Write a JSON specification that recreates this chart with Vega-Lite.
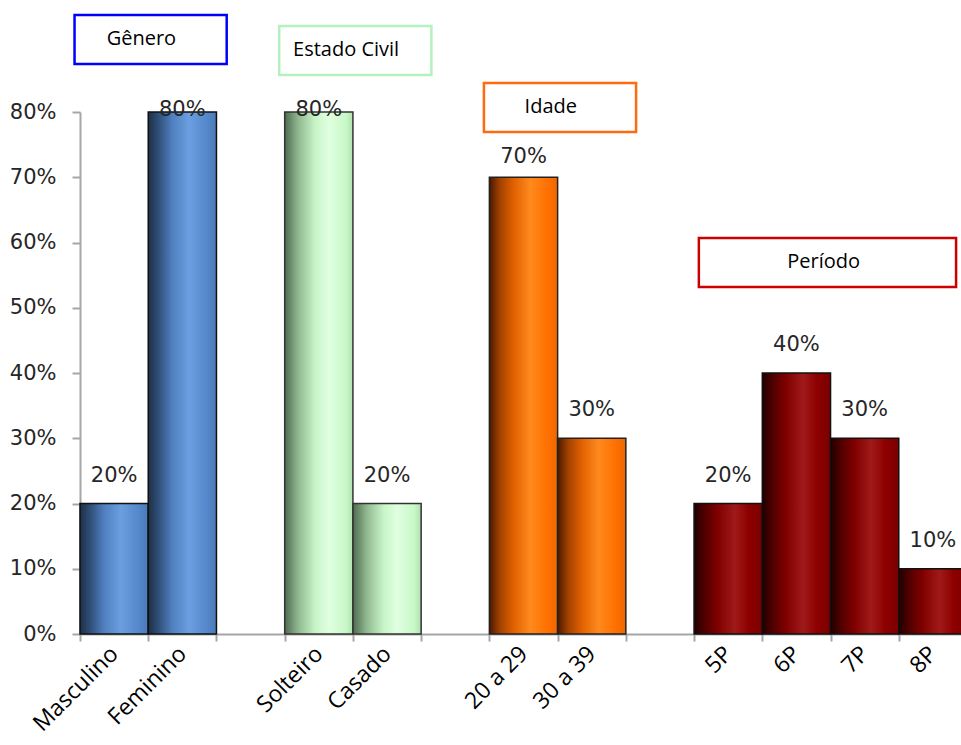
{
  "$schema": "https://vega.github.io/schema/vega-lite/v6.json",
  "autosize": {"type": "none"},
  "width": 881,
  "height": 522,
  "padding": {"left": 80, "top": 112, "right": 0, "bottom": 111},
  "background": "white",
  "config": {"view": {"stroke": null}},
  "datasets": {
    "barras": [
      {"categoria": "Masculino", "grupo": "Gênero", "valor": 0.2},
      {"categoria": "Feminino", "grupo": "Gênero", "valor": 0.8},
      {"categoria": "Solteiro", "grupo": "Estado Civil", "valor": 0.8},
      {"categoria": "Casado", "grupo": "Estado Civil", "valor": 0.2},
      {"categoria": "20 a 29", "grupo": "Idade", "valor": 0.7},
      {"categoria": "30 a 39", "grupo": "Idade", "valor": 0.3},
      {"categoria": "5P", "grupo": "Período", "valor": 0.2},
      {"categoria": "6P", "grupo": "Período", "valor": 0.4},
      {"categoria": "7P", "grupo": "Período", "valor": 0.3},
      {"categoria": "8P", "grupo": "Período", "valor": 0.1}
    ],
    "caixas": [
      {"grupo": "Gênero", "de": "Masculino", "centro": "Feminino", "ate": " ", "topo": 0.9487, "base": 0.8736},
      {"grupo": "Estado Civil", "de": "Solteiro", "centro": "Casado", "ate": "  ", "topo": 0.9318, "base": 0.8567},
      {"grupo": "Idade", "de": "20 a 29", "centro": "30 a 39", "ate": "   ", "topo": 0.8444, "base": 0.7693},
      {"grupo": "Período", "de": "5P", "centro": "7P", "ate": "8P", "topo": 0.6069, "base": 0.5318}
    ]
  },
  "layer": [
    {
      "data": {"name": "barras"},
      "transform": [{"filter": "datum.grupo === 'Gênero'"}],
      "mark": {"type": "bar", "stroke": "#111111", "strokeWidth": 1.5,
        "fill": {"gradient": "linear", "x1": 0, "x2": 1, "y1": 0, "y2": 0,
          "stops": [
            {"offset": 0, "color": "#1e2f45"},
            {"offset": 0.15, "color": "#2f4f78"},
            {"offset": 0.35, "color": "#4f7fbf"},
            {"offset": 0.6, "color": "#6c9fe0"},
            {"offset": 0.85, "color": "#5588cc"},
            {"offset": 1, "color": "#4a7ab8"}]}},
      "encoding": {
        "x": {"field": "categoria", "type": "nominal"},
        "y": {"field": "valor", "type": "quantitative"}
      }
    },
    {
      "data": {"name": "barras"},
      "transform": [{"filter": "datum.grupo === 'Estado Civil'"}],
      "mark": {"type": "bar", "stroke": "#333333", "strokeWidth": 1.5,
        "fill": {"gradient": "linear", "x1": 0, "x2": 1, "y1": 0, "y2": 0,
          "stops": [
            {"offset": 0, "color": "#4f6a4f"},
            {"offset": 0.2, "color": "#90b890"},
            {"offset": 0.45, "color": "#c8f5c8"},
            {"offset": 0.65, "color": "#e0ffe0"},
            {"offset": 0.9, "color": "#c8f8c8"},
            {"offset": 1, "color": "#b0e0b0"}]}},
      "encoding": {
        "x": {"field": "categoria", "type": "nominal"},
        "y": {"field": "valor", "type": "quantitative"}
      }
    },
    {
      "data": {"name": "barras"},
      "transform": [{"filter": "datum.grupo === 'Idade'"}],
      "mark": {"type": "bar", "stroke": "#222222", "strokeWidth": 1.5,
        "fill": {"gradient": "linear", "x1": 0, "x2": 1, "y1": 0, "y2": 0,
          "stops": [
            {"offset": 0, "color": "#4a1800"},
            {"offset": 0.15, "color": "#a04000"},
            {"offset": 0.35, "color": "#e06000"},
            {"offset": 0.6, "color": "#ff8a1e"},
            {"offset": 0.85, "color": "#ff7000"},
            {"offset": 1, "color": "#f06800"}]}},
      "encoding": {
        "x": {"field": "categoria", "type": "nominal"},
        "y": {"field": "valor", "type": "quantitative"}
      }
    },
    {
      "data": {"name": "barras"},
      "transform": [{"filter": "datum.grupo === 'Período'"}],
      "mark": {"type": "bar", "stroke": "#111111", "strokeWidth": 1.5,
        "fill": {"gradient": "linear", "x1": 0, "x2": 1, "y1": 0, "y2": 0,
          "stops": [
            {"offset": 0, "color": "#200000"},
            {"offset": 0.15, "color": "#500000"},
            {"offset": 0.35, "color": "#800000"},
            {"offset": 0.6, "color": "#a01a1a"},
            {"offset": 0.8, "color": "#8e0000"},
            {"offset": 1, "color": "#7a0000"}]}},
      "encoding": {
        "x": {
          "field": "categoria", "type": "nominal",
          "scale": {
            "type": "band",
            "domain": ["Masculino", "Feminino", " ", "Solteiro", "Casado", "  ", "20 a 29", "30 a 39", "   ", "5P", "6P", "7P", "8P"],
            "range": [0, 887],
            "paddingInner": 0,
            "paddingOuter": 0
          },
          "axis": {
            "title": null,
            "labelAngle": -45,
            "labelFont": "Open Sans",
            "labelFontSize": 23,
            "labelColor": "#000000",
            "labelPadding": 9,
            "tickBand": "extent",
            "tickSize": 7,
            "tickWidth": 2,
            "tickColor": "#a6a6a6",
            "domainColor": "#a6a6a6",
            "domainWidth": 2,
            "grid": false
          }
        },
        "y": {
          "field": "valor", "type": "quantitative",
          "scale": {"domain": [0, 0.8], "nice": false},
          "axis": {
            "title": null,
            "format": ".0%",
            "values": [0, 0.1, 0.2, 0.3, 0.4, 0.5, 0.6, 0.7, 0.8],
            "labelFont": "DejaVu Sans",
            "labelFontSize": 21,
            "labelColor": "#262626",
            "labelPadding": 16,
            "tickSize": 8,
            "tickWidth": 2,
            "tickColor": "#a6a6a6",
            "domainColor": "#a6a6a6",
            "domainWidth": 2,
            "grid": false
          }
        }
      }
    },
    {
      "data": {"name": "barras"},
      "transform": [{"filter": "datum.valor >= 0.8"}],
      "mark": {"type": "text", "font": "DejaVu Sans", "fontSize": 21, "color": "#262626", "baseline": "middle", "dy": -2},
      "encoding": {
        "x": {"field": "categoria", "type": "nominal"},
        "y": {"field": "valor", "type": "quantitative"},
        "text": {"field": "valor", "type": "quantitative", "format": ".0%"}
      }
    },
    {
      "data": {"name": "barras"},
      "transform": [{"filter": "datum.valor == 0.7"}],
      "mark": {"type": "text", "font": "DejaVu Sans", "fontSize": 21, "color": "#262626", "baseline": "middle", "dy": -20},
      "encoding": {
        "x": {"field": "categoria", "type": "nominal"},
        "y": {"field": "valor", "type": "quantitative"},
        "text": {"field": "valor", "type": "quantitative", "format": ".0%"}
      }
    },
    {
      "data": {"name": "barras"},
      "transform": [{"filter": "datum.valor < 0.7"}],
      "mark": {"type": "text", "font": "DejaVu Sans", "fontSize": 21, "color": "#262626", "baseline": "middle", "dy": -28},
      "encoding": {
        "x": {"field": "categoria", "type": "nominal"},
        "y": {"field": "valor", "type": "quantitative"},
        "text": {"field": "valor", "type": "quantitative", "format": ".0%"}
      }
    },
    {
      "data": {"name": "caixas"},
      "transform": [{"filter": "datum.grupo !== 'Período'"}],
      "mark": {"type": "rect", "fill": "white", "strokeWidth": 2.5, "clip": false},
      "encoding": {
        "x": {"field": "de", "type": "nominal", "bandPosition": -0.08},
        "x2": {"field": "ate", "bandPosition": 0.15},
        "y": {"field": "topo", "type": "quantitative"},
        "y2": {"field": "base"},
        "stroke": {
          "field": "grupo", "type": "nominal", "legend": null,
          "scale": {"domain": ["Gênero", "Estado Civil", "Idade", "Período"], "range": ["#0000ff", "#b3f2c0", "#ff6a10", "#cc0000"]}
        }
      }
    },
    {
      "data": {"name": "caixas"},
      "transform": [{"filter": "datum.grupo === 'Período'"}],
      "mark": {"type": "rect", "fill": "white", "strokeWidth": 2.5, "clip": false},
      "encoding": {
        "x": {"field": "de", "type": "nominal", "bandPosition": 0.07},
        "x2": {"field": "ate", "bandPosition": 0.84},
        "y": {"field": "topo", "type": "quantitative"},
        "y2": {"field": "base"},
        "stroke": {"field": "grupo", "type": "nominal", "legend": null}
      }
    },
    {
      "data": {"name": "caixas"},
      "mark": {"type": "text", "font": "Open Sans", "fontSize": 20, "color": "#000000", "baseline": "middle", "align": "center", "dy": 24},
      "encoding": {
        "x": {"field": "centro", "type": "nominal", "bandPosition": -0.1},
        "y": {"field": "topo", "type": "quantitative"},
        "text": {"field": "grupo"}
      }
    }
  ]
}
